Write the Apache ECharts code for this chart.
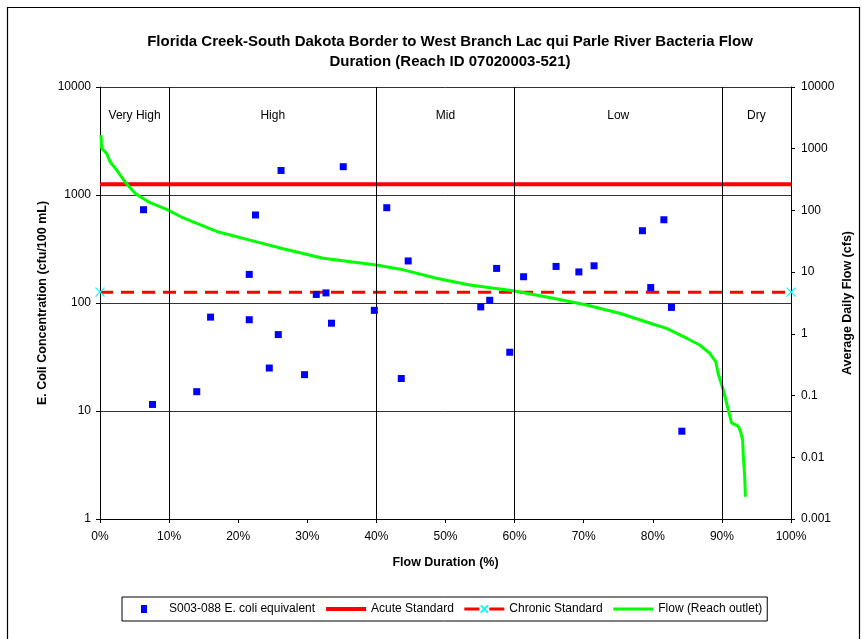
<!DOCTYPE html>
<html>
<head>
<meta charset="utf-8">
<script src="https://cdn.jsdelivr.net/npm/echarts@6/dist/echarts.min.js"></script>
<style>html,body{margin:0;padding:0;background:#fff;}#c{width:867px;height:639px;}</style>
</head>
<body>
<div id="c"></div>
<script>
// E. coli samples: flow duration (%) and concentration (cfu/100 mL)
const ecoliPct = [6.3, 7.6, 14.0, 16.0, 21.6, 21.6, 22.5, 24.5, 25.8, 26.2, 29.6, 31.3, 32.7, 33.5, 35.2, 39.7,
                  41.5, 43.6, 44.6, 55.1, 56.4, 57.4, 59.3, 61.3, 66.0, 69.3, 71.5, 78.5, 79.7, 81.6, 82.7, 84.2];
const ecoliVal = [731, 11.5, 15.1, 74, 184, 70, 653, 25, 51, 1687, 21.7, 120, 124, 65, 1828, 85.5,
                  763, 20, 245, 92, 106, 209, 35, 175, 218, 194, 221, 467, 139, 590, 91, 6.5];
// Flow duration curve (cfs)
const flowPct = [0.14, 0.25, 0.97, 1.45, 2.42, 3.62, 5.07, 7.0, 9.65, 11.8, 13.75, 16.9, 21.7, 26.5, 32.3, 40.0,
                 43.9, 48.7, 53.5, 59.8, 65.6, 70.4, 75.2, 80.1, 82.0, 84.9, 86.8, 88.2, 89.1, 89.5, 90.2,
                 90.8, 91.4, 92.4, 92.7, 93.0, 93.1, 93.3, 93.4];
const flowCfs = [1660, 1010, 840, 614, 450, 291, 189, 138, 104, 78.2, 63.7, 45.6, 33, 24, 16.8, 13.1,
                 10.9, 7.95, 6.2, 5.0, 3.78, 2.94, 2.16, 1.43, 1.23, 0.85, 0.66, 0.49, 0.356, 0.217, 0.124,
                 0.067, 0.036, 0.0316, 0.026, 0.019, 0.0103, 0.0049, 0.0023];
// Standards
const acuteStd = 1260;
const chronicStd = 126;
const stdPct = [0, 100];
// Flow zones
const zoneBounds = [10, 40, 60, 90];
const zoneNames = ['Very High', 'High', 'Mid', 'Low', 'Dry'];
const zoneCenters = [5, 25, 50, 75, 95];
const zoneLabelY = 5460;
// Texts
const titleText = 'Florida Creek-South Dakota Border to West Branch Lac qui Parle River Bacteria Flow\nDuration (Reach ID 07020003-521)';
const seriesNames = ['S003-088 E. coli equivalent', 'Acute Standard', 'Chronic Standard', 'Flow (Reach outlet)'];

const FONT = "'Liberation Sans', Arial, sans-serif";
const chart = echarts.init(document.getElementById('c'), null, {renderer: 'canvas'});
const logFmt = function (v) { return String(+Number(v).toPrecision(6)); };

const option = {
  animation: false,
  backgroundColor: '#ffffff',
  textStyle: {fontFamily: FONT, color: '#000'},
  title: {
    text: titleText,
    left: 445, top: 27, textAlign: 'center',
    textStyle: {fontFamily: FONT, fontSize: 15, fontWeight: 'bold', color: '#000', lineHeight: 20}
  },
  graphic: [{
    type: 'rect', silent: true,
    shape: {x: 7.5, y: 7.5, width: 852, height: 700},
    style: {fill: 'none', stroke: '#000', lineWidth: 1.2}
  }],
  legend: {
    data: [
      {name: seriesNames[0], icon: 'path://M0,0M40,9M17,0.5h6v8h-6z'},
      {name: seriesNames[1], itemStyle: {opacity: 0}, lineStyle: {width: 4}},
      {name: seriesNames[2], lineStyle: {width: 3, type: [15, 10]}},
      {name: seriesNames[3], itemStyle: {opacity: 0}, lineStyle: {width: 3}}
    ],
    left: 122, top: 597,
    orient: 'horizontal',
    itemWidth: 40, itemHeight: 9, itemGap: 9,
    padding: [6, 5, 6, 2],
    borderColor: '#000', borderWidth: 1,
    textStyle: {fontFamily: FONT, fontSize: 12, color: '#000'}
  },
  grid: {left: 100, right: 76, top: 87, bottom: 120, containLabel: false},
  xAxis: {
    type: 'value', min: 0, max: 100, interval: 10,
    name: 'Flow Duration (%)', nameLocation: 'middle', nameGap: 37, nameMoveOverlap: false,
    nameTextStyle: {fontFamily: FONT, fontSize: 12.5, fontWeight: 'bold', color: '#000'},
    axisLine: {show: true, onZero: false, lineStyle: {color: '#000', width: 1}},
    axisTick: {show: true, length: 4, lineStyle: {color: '#000'}},
    axisLabel: {formatter: '{value}%', fontSize: 12, color: '#000', margin: 12, fontFamily: FONT},
    splitLine: {show: false}
  },
  yAxis: [{
    type: 'log', logBase: 10, min: 1, max: 10000, splitNumber: 4,
    position: 'left',
    name: 'E. Coli Concentration (cfu/100 mL)', nameLocation: 'middle', nameGap: 51, nameRotate: 90,
    nameMoveOverlap: false,
    nameTextStyle: {fontFamily: FONT, fontSize: 12.5, fontWeight: 'bold', color: '#000'},
    axisLine: {show: true, lineStyle: {color: '#000', width: 1}},
    axisTick: {show: true, length: 4, lineStyle: {color: '#000'}},
    axisLabel: {fontSize: 12, color: '#000', margin: 9, fontFamily: FONT, formatter: logFmt},
    splitLine: {show: true, lineStyle: {color: '#333', width: 1}},
    minorTick: {show: false}, minorSplitLine: {show: false}
  }, {
    type: 'log', logBase: 10, min: 0.001, max: 10000, splitNumber: 7,
    position: 'right',
    name: 'Average Daily Flow (cfs)', nameLocation: 'middle', nameGap: 50, nameRotate: 90,
    nameMoveOverlap: false,
    nameTextStyle: {fontFamily: FONT, fontSize: 12.5, fontWeight: 'bold', color: '#000'},
    axisLine: {show: true, lineStyle: {color: '#000', width: 1}},
    axisTick: {show: true, length: 4, lineStyle: {color: '#000'}},
    axisLabel: {fontSize: 12, color: '#000', margin: 10, fontFamily: FONT, formatter: logFmt},
    splitLine: {show: false}
  }],
  series: [{
    name: seriesNames[0], type: 'scatter', yAxisIndex: 0,
    symbol: 'rect', symbolSize: 7,
    itemStyle: {color: '#0000ff', opacity: 1},
    data: ecoliPct.map((p, i) => [p, ecoliVal[i]]),
    z: 5,
    markLine: {
      silent: true, symbol: 'none', animation: false,
      label: {show: false},
      lineStyle: {color: '#000', width: 1, type: 'solid', opacity: 1},
      data: zoneBounds.map(b => ({xAxis: b}))
    }
  }, {
    name: seriesNames[1], type: 'line', yAxisIndex: 0,
    symbol: 'none',
    lineStyle: {color: '#ff0000', width: 4},
    itemStyle: {color: '#ff0000'},
    data: stdPct.map(p => [p, acuteStd]),
    z: 3
  }, {
    name: seriesNames[2], type: 'line', yAxisIndex: 0,
    symbol: 'path://M0,0L10,10M10,0L0,10', symbolSize: 9, showSymbol: true, clip: false,
    lineStyle: {color: '#ff0000', width: 3, type: [13, 8]},
    itemStyle: {color: '#00ffff', borderColor: '#00ffff', borderWidth: 1.3},
    data: stdPct.map(p => [p, chronicStd]),
    z: 3
  }, {
    name: seriesNames[3], type: 'line', yAxisIndex: 1,
    symbol: 'none',
    lineStyle: {color: '#00ff00', width: 3},
    itemStyle: {color: '#00ff00'},
    data: flowPct.map((p, i) => [p, flowCfs[i]]),
    z: 4
  }, {
    name: 'zones', type: 'scatter', yAxisIndex: 0,
    symbolSize: 0, silent: true,
    itemStyle: {opacity: 1},
    label: {show: true, position: 'inside', formatter: p => p.value[2],
      fontFamily: FONT, fontSize: 12, color: '#000', opacity: 1, textBorderWidth: 0},
    data: zoneCenters.map((c, i) => [c, zoneLabelY, zoneNames[i]]),
    z: 6
  }]
};
chart.setOption(option);
</script>
</body>
</html>
